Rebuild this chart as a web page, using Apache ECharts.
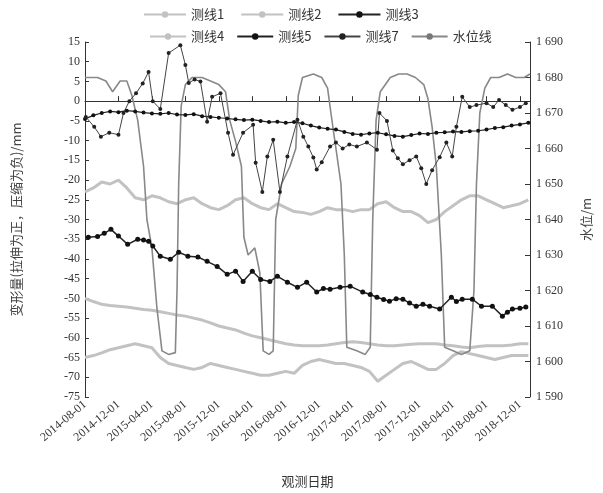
<!DOCTYPE html>
<html><head><meta charset="utf-8">
<script src="https://cdn.jsdelivr.net/npm/echarts@6/dist/echarts.min.js"></script>
<style>html,body{margin:0;padding:0;background:#fff}#c{width:603px;height:493px}</style>
</head><body><div id="c"></div>
<script>
// x values are months counted from 2014-08-01
const dateLabels = ['2014-08-01','2014-12-01','2015-04-01','2015-08-01','2015-12-01','2016-04-01','2016-08-01','2016-12-01','2017-04-01','2017-08-01','2017-12-01','2018-04-01','2018-08-01','2018-12-01'];
const leftTicks = {min:-75, max:15, interval:5};
const rightTicks = {min:1590, max:1690, interval:10};

// monthly values (index = month)
const line1Values = [-23,-22,-20.5,-21,-20,-22,-24.5,-25,-24,-24.5,-25.5,-26,-25,-24.5,-26,-27,-27.5,-26.5,-25,-24.5,-26,-27,-27.5,-26,-27,-28,-28.2,-28.7,-28,-27,-27.5,-27.5,-28,-27.5,-27.5,-26,-25.5,-27,-28,-28,-29,-30.8,-30,-28,-26.5,-25,-24,-24,-25,-26,-27,-26.5,-26,-25];
const line2Values = [-50,-50.8,-51.5,-51.8,-52,-52.2,-52.5,-52.8,-53,-53.4,-53.8,-54.2,-54.5,-55,-55.5,-56.2,-57,-57.5,-58,-58.8,-59.5,-60,-60.5,-61,-61.5,-61.8,-62,-62,-62,-61.8,-61.5,-61.2,-61,-61.2,-61.5,-61.8,-62,-62,-61.8,-61.6,-61.5,-61.5,-61.5,-61.8,-62,-62.3,-62.5,-62.2,-62,-62,-62,-61.8,-61.5,-61.5];
const line4Values = [-65,-64.5,-63.8,-63,-62.5,-62,-61.5,-62,-62.5,-65,-66.5,-67,-67.5,-68,-67.5,-66.5,-67,-67.5,-68,-68.5,-69,-69.5,-69.5,-69,-68.5,-69,-67,-66,-65.5,-66,-66.5,-66.5,-67,-67.5,-68.5,-71,-69.5,-68,-66.5,-66,-67,-68,-68,-66.5,-64.5,-63.5,-64,-64.5,-65,-65.5,-65,-64.5,-64.5,-64.5];
const line5Values = [-4.5,-3.6,-3,-2.6,-2.8,-2.4,-2.6,-2.9,-3.1,-3.2,-3,-3.4,-3.5,-3.3,-3.8,-4,-4.2,-4.4,-4.6,-4.8,-4.7,-5,-5.3,-5.2,-5.5,-5.3,-5.6,-6.2,-6.7,-7,-7.2,-7.8,-8.3,-8.5,-8.2,-8,-8.4,-8.8,-9,-8.6,-8.2,-8.3,-8,-7.9,-7.7,-7.8,-7.6,-7.5,-7.2,-6.8,-6.6,-6.2,-5.9,-5.5];

// [month, value] pairs
const line3Points = [[0.4,-34.5],[1.5,-34.3],[2.3,-33.5],[3.1,-32.5],[4,-34.2],[5.1,-36.3],[6.3,-35],[7,-35.2],[7.6,-35.5],[8.1,-36.7],[9,-39.3],[10.2,-40.1],[11.2,-38.3],[12.3,-39.3],[13.5,-39.5],[14.6,-40.6],[15.8,-41.9],[17,-43.9],[18,-43.1],[18.9,-45.7],[20,-43.1],[21,-45.2],[22.1,-45.7],[23,-44.4],[24.2,-45.9],[25.4,-47.2],[26.5,-45.9],[27.7,-48.4],[28.5,-47.5],[29.3,-47.7],[30.5,-47.2],[31.7,-46.9],[33.2,-48.4],[34.1,-49],[34.9,-49.7],[35.7,-50.3],[36.4,-50.7],[37.2,-50.1],[38,-50.2],[38.8,-51.2],[39.6,-52],[40.4,-51.5],[41.2,-52],[42.4,-52.7],[43.8,-49.7],[44.4,-50.8],[45.1,-50.2],[46.3,-50.2],[47.4,-52],[48.7,-52],[49.9,-54.5],[50.5,-53.5],[51.1,-52.7],[52,-52.5],[52.7,-52.2]];
const line7Points = [[0.1,-4],[1.1,-6.5],[1.9,-9],[2.9,-8],[4,-8.5],[4.6,-3],[5.3,0],[6.1,2],[6.9,4.5],[7.6,7.4],[8.1,0],[9,-2],[10,12.2],[11.4,14.2],[12,9.2],[12.4,4.6],[13.1,5.5],[13.8,5],[14.6,-5.2],[15.2,1.1],[16.2,2],[17.1,-8],[17.7,-13.6],[18.9,-8],[20.1,-6],[20.4,-15.6],[21.2,-23],[21.8,-14],[22.5,-9.8],[23.3,-23],[24.2,-14],[25.4,-4.7],[26.1,-9],[26.7,-11.5],[27.3,-14.3],[27.7,-17.3],[28.3,-15.5],[29.3,-11.5],[30,-10.5],[30.8,-12],[31.6,-11],[32.5,-11.5],[33.7,-10.5],[34.9,-12.3],[35.2,-3],[36.1,-5],[36.8,-12.5],[37.4,-14.5],[38,-16],[38.8,-15],[39.6,-14],[40.2,-17],[40.8,-21],[41.5,-17.5],[42.4,-14.2],[43.2,-10.5],[43.9,-14],[44.4,-6.5],[45.1,1.1],[46,-1.5],[46.8,-1],[48,-0.5],[48.8,-1.5],[49.5,0.3],[50.3,-1],[51.1,-2.2],[52,-1.5],[52.7,-0.5]];
const waterPoints = [[0,1680],[1.5,1680],[2.5,1679],[3.3,1676],[4.2,1679],[5,1679],[5.6,1675],[6.3,1668],[7,1655],[7.4,1640],[8,1632],[8.6,1615],[9.2,1603],[10,1602],[10.8,1602.5],[11,1620],[11.2,1650],[11.5,1672],[12,1678],[12.8,1680],[14,1680],[15,1679],[16,1678],[16.8,1676],[17.3,1668],[18,1662],[18.7,1655],[19,1635],[19.5,1630],[20.3,1632],[20.9,1625],[21.3,1603],[22,1602],[22.5,1603],[22.8,1640],[23.5,1650],[24.5,1655],[25.2,1660],[25.5,1675],[26,1680],[27.3,1681],[28.3,1680],[29,1677],[29.4,1670],[30,1660],[30.6,1650],[31,1630],[31.3,1604],[32.5,1603],[33.5,1602],[34.1,1604],[34.4,1640],[34.8,1668],[35.3,1676],[36.5,1680],[37.5,1681],[38.5,1681],[39.5,1680],[40.5,1678],[41,1674],[41.5,1666],[42,1655],[42.6,1630],[43,1604],[44,1603],[45,1602],[46,1603],[46.5,1620],[46.8,1650],[47.2,1670],[47.8,1677],[48.5,1680],[49.5,1680],[50.5,1681],[51.5,1680],[52.5,1680],[53.2,1681]];

const monthly = arr => arr.map((v,i)=>[i,v]);
const serif = 'Liberation Serif';
const cjk = 'Noto Sans CJK SC';
const gray = '#c2c2c2';

const chart = echarts.init(document.getElementById('c'));
chart.setOption({
  animation:false,
  backgroundColor:'#fff',
  legend:[
    {top:3,left:138,itemWidth:42,itemHeight:8,itemGap:16,data:['测线1','测线2','测线3'],textStyle:{fontFamily:cjk,fontSize:13,color:'#333'}},
    {top:25,left:144,itemWidth:36,itemHeight:8,itemGap:12,data:['测线4','测线5','测线7','水位线'],textStyle:{fontFamily:cjk,fontSize:13,color:'#333'}}
  ],
  grid:{left:85,right:73,top:42,bottom:95},
  xAxis:{type:'value',min:0,max:53.2,interval:4,
    name:'观测日期',nameLocation:'middle',nameGap:78,nameTextStyle:{fontFamily:cjk,fontSize:13,color:'#333'},
    axisLine:{lineStyle:{color:'#333'}},axisTick:{inside:true,length:5,lineStyle:{color:'#333'}},
    splitLine:{show:false},
    axisLabel:{rotate:40,fontFamily:serif,fontSize:12,color:'#333',margin:6,
      formatter:v=>{const i=Math.round(v/4);return Math.abs(v-i*4)<1e-6&&dateLabels[i]?dateLabels[i]:'';}}
  },
  yAxis:[
    {type:'value',min:leftTicks.min,max:leftTicks.max,interval:leftTicks.interval,
      name:'变形量(拉伸为正，压缩为负)/mm',nameLocation:'middle',nameGap:62,nameRotate:90,
      nameTextStyle:{fontFamily:cjk,fontSize:13,color:'#444'},
      axisLine:{show:true,lineStyle:{color:'#333'}},axisTick:{show:true,inside:true,length:4,lineStyle:{color:'#333'}},
      splitLine:{show:false},axisLabel:{fontFamily:serif,fontSize:12,color:'#333',margin:5}},
    {type:'value',min:rightTicks.min,max:rightTicks.max,interval:rightTicks.interval,position:'right',
      name:'水位/m',nameLocation:'middle',nameGap:50,nameRotate:90,
      nameTextStyle:{fontFamily:cjk,fontSize:13,color:'#444'},
      axisLine:{show:true,lineStyle:{color:'#333'}},axisTick:{show:true,inside:true,length:5,lineStyle:{color:'#333'}},
      splitLine:{show:false},
      axisLabel:{fontFamily:serif,fontSize:12,color:'#333',margin:6,formatter:v=>String(v).replace(/^(\d)(\d{3})$/,'$1 $2')}}
  ],
  series:[
    {name:'测线1',type:'line',data:monthly(line1Values),symbol:'none',lineStyle:{color:gray,width:3},itemStyle:{color:gray},z:2},
    {name:'测线2',type:'line',data:monthly(line2Values),symbol:'none',lineStyle:{color:gray,width:3},itemStyle:{color:gray},z:2},
    {name:'测线3',type:'line',data:line3Points,symbol:'circle',symbolSize:5,lineStyle:{color:'#222',width:1.5},itemStyle:{color:'#111'},z:4},
    {name:'测线4',type:'line',data:monthly(line4Values),symbol:'none',lineStyle:{color:gray,width:3},itemStyle:{color:gray},z:2},
    {name:'测线5',type:'line',data:monthly(line5Values),symbol:'circle',symbolSize:4,lineStyle:{color:'#222',width:1.2},itemStyle:{color:'#111'},z:4},
    {name:'测线7',type:'line',data:line7Points,symbol:'circle',symbolSize:4,lineStyle:{color:'#444',width:1},itemStyle:{color:'#222'},z:4},
    {name:'水位线',type:'line',yAxisIndex:1,data:waterPoints,symbol:'none',lineStyle:{color:'#888',width:1.6},itemStyle:{color:'#777'},z:3}
  ]
});
</script>
</body></html>
